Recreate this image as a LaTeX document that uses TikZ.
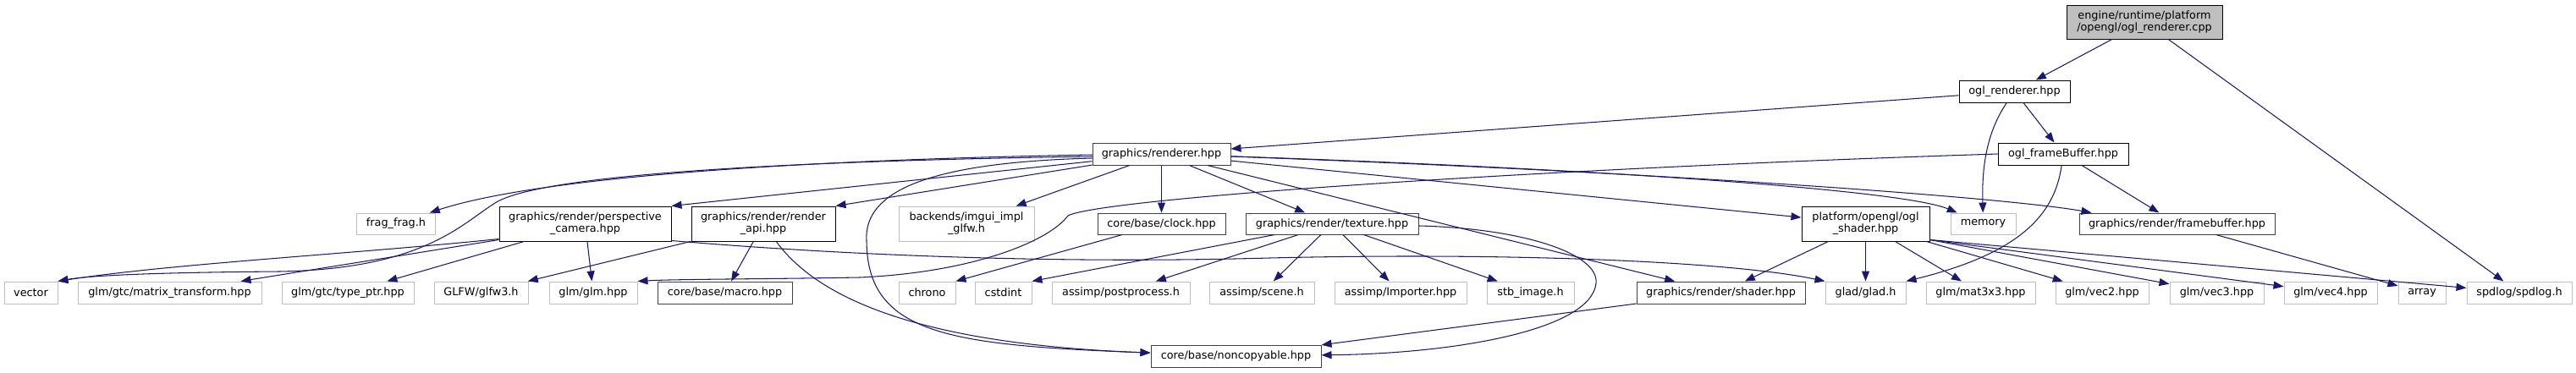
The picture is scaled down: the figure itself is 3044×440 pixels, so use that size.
\documentclass[tikz,border=0pt]{standalone}
\usepackage{fontspec}
\setmainfont{DejaVu Sans}
\usetikzlibrary{arrows.meta}
\definecolor{edgec}{HTML}{191970}
\definecolor{gseventyfive}{HTML}{BFBFBF}
\definecolor{gforty}{HTML}{404040}
\tikzset{
  box/.style={draw, line width=1pt, fill=white, inner sep=0pt, align=center,
    font=\fontsize{12.8}{14}\selectfont, text=black},
  docb/.style={box, draw=black},
  docg/.style={box, draw=gforty},
  ext/.style={box, draw=gseventyfive},
  edge/.style={draw=edgec, line width=1.05pt, -{Triangle[length=12pt,width=9pt]}},
}
\begin{document}
\begin{tikzpicture}[x=1pt,y=-1pt]
\useasboundingbox (0,0) rectangle (3044,440);
% top rows
\node[docb, fill=gseventyfive, minimum width=184pt, minimum height=40pt] (root) at (2534,26) {engine/runtime/platform\\/opengl/ogl\_renderer.cpp};
\node[docb, minimum width=131pt, minimum height=26pt] (oglr) at (2380.5,108) {ogl\_renderer.hpp};
\node[docg, minimum width=163pt, minimum height=26pt] (rend) at (1372.5,182) {graphics/renderer.hpp};
\node[docb, minimum width=154pt, minimum height=26pt] (oglfb) at (2438,182) {ogl\_frameBuffer.hpp};
% middle row
\node[ext, minimum width=93pt, minimum height=25pt] (frag) at (468,264.5) {frag\_frag.h};
\node[docb, minimum width=203pt, minimum height=41pt] (cam) at (691.5,264.5) {graphics/render/perspective\\\_camera.hpp};
\node[docb, minimum width=170pt, minimum height=41pt] (rapi) at (902,264.5) {graphics/render/render\\\_api.hpp};
\node[ext, minimum width=160pt, minimum height=41pt] (imgui) at (1142,264.5) {backends/imgui\_impl\\\_glfw.h};
\node[docg, minimum width=151pt, minimum height=25pt] (clock) at (1372.5,264.5) {core/base/clock.hpp};
\node[docg, minimum width=204pt, minimum height=25pt] (tex) at (1574,264.5) {graphics/render/texture.hpp};
\node[docb, minimum width=151pt, minimum height=41pt] (oglsh) at (2204.5,264.5) {platform/opengl/ogl\\\_shader.hpp};
\node[ext, minimum width=77pt, minimum height=25pt] (memory) at (2343.5,264.5) {memory};
\node[docg, minimum width=231pt, minimum height=25pt] (fbh) at (2572.5,264.5) {graphics/render/framebuffer.hpp};
% bottom row
\node[ext, minimum width=63pt, minimum height=26pt] (vector) at (36.5,346) {vector};
\node[ext, minimum width=217pt, minimum height=26pt] (mt) at (200.5,346) {glm/gtc/matrix\_transform.hpp};
\node[ext, minimum width=156pt, minimum height=26pt] (tp) at (411,346) {glm/gtc/type\_ptr.hpp};
\node[ext, minimum width=111pt, minimum height=26pt] (glfw) at (568.5,346) {GLFW/glfw3.h};
\node[ext, minimum width=104pt, minimum height=26pt] (glm) at (701,346) {glm/glm.hpp};
\node[docg, minimum width=159pt, minimum height=26pt] (macro) at (856.5,346) {core/base/macro.hpp};
\node[ext, minimum width=67pt, minimum height=26pt] (chrono) at (1095.5,346) {chrono};
\node[ext, minimum width=67pt, minimum height=26pt] (cstdint) at (1185.5,346) {cstdint};
\node[ext, minimum width=163pt, minimum height=26pt] (pp) at (1324.5,346) {assimp/postprocess.h};
\node[ext, minimum width=124pt, minimum height=26pt] (scene) at (1491,346) {assimp/scene.h};
\node[ext, minimum width=156pt, minimum height=26pt] (imp) at (1655,346) {assimp/Importer.hpp};
\node[ext, minimum width=103pt, minimum height=26pt] (stb) at (1808.5,346) {stb\_image.h};
\node[docg, minimum width=199pt, minimum height=26pt] (shader) at (2033.5,346) {graphics/render/shader.hpp};
\node[ext, minimum width=95pt, minimum height=26pt] (glad) at (2204.5,346) {glad/glad.h};
\node[ext, minimum width=129pt, minimum height=26pt] (mat) at (2340.5,346) {glm/mat3x3.hpp};
\node[ext, minimum width=110pt, minimum height=26pt] (vtwo) at (2484,346) {glm/vec2.hpp};
\node[ext, minimum width=111pt, minimum height=26pt] (vthree) at (2619.5,346) {glm/vec3.hpp};
\node[ext, minimum width=110pt, minimum height=26pt] (vfour) at (2754,346) {glm/vec4.hpp};
\node[ext, minimum width=56pt, minimum height=26pt] (arr) at (2862,346) {array};
\node[ext, minimum width=124pt, minimum height=26pt] (spd) at (2977,346) {spdlog/spdlog.h};
\node[docg, minimum width=201pt, minimum height=26pt] (nonc) at (1460.5,421) {core/base/noncopyable.hpp};

% edges from root and ogl files
\draw[edge] (root) -- (oglr);
\draw[edge] (root) -- (spd);
\draw[edge] (oglr) -- (rend);
\draw[edge] (oglr) .. controls (2345,160) and (2342,205) .. (memory);
\draw[edge] (oglr) -- (oglfb);
\draw[edge] (oglfb) -- (fbh);
\draw[edge] (oglfb) .. controls (2428,255) and (2385,300) .. (glad.north east);
\draw[edge] (oglfb.west) .. controls (1800,200) and (1300,235) .. (1262,255)
  .. controls (1240,285) and (1150,322) .. (1016,328)
  .. controls (900,330) and (800,330) .. (glm.north east);
% renderer.hpp
\draw[edge] ([yshift=-1pt]rend.west) .. controls (1000,188) and (650,205) .. (frag);
\draw[edge] ([yshift=-3pt]rend.west) .. controls (950,190) and (640,205) .. (585,240)
  .. controls (545,265) and (500,318) .. (330,321)
  .. controls (200,322) and (110,325) .. (vector.north east);
\draw[edge] (rend) -- (cam.north east);
\draw[edge] (rend) -- (rapi.north east);
\draw[edge] (rend) -- (imgui);
\draw[edge] (rend) -- (clock);
\draw[edge] (rend) -- (tex);
\draw[edge] ([yshift=-5pt]rend.west) .. controls (1100,192) and (1020,225) .. (1024,285)
  .. controls (1025,395) and (1120,408) .. (nonc);
\draw[edge] (rend) -- (shader);
\draw[edge] (rend) -- (oglsh);
\draw[edge] (rend) .. controls (1900,200) and (2250,225) .. (memory);
\draw[edge] (rend) .. controls (2000,205) and (2380,235) .. ([xshift=15pt]fbh.north west);
% perspective camera
\draw[edge] ([yshift=3pt]cam.south west) .. controls (420,300) and (200,312) .. (vector.north east);
\draw[edge] ([yshift=2pt]cam.south west) -- (mt);
\draw[edge] (cam) -- (tp);
\draw[edge] (cam) -- (glm);
\draw[edge] ([yshift=1pt]cam.south east) .. controls (1000,302) and (1250,312) .. (1500,305)
  .. controls (1800,298) and (2050,310) .. (glad.north west);
% render api
\draw[edge] (rapi) -- (glfw);
\draw[edge] (rapi) -- (macro);
\draw[edge] (rapi) .. controls (975,365) and (1120,408) .. (nonc);
% clock
\draw[edge] (clock) -- (chrono.north east);
% texture
\draw[edge] (tex) -- (cstdint.north east);
\draw[edge] (tex) -- (pp);
\draw[edge] (tex) -- (scene);
\draw[edge] (tex) -- (imp);
\draw[edge] (tex) -- (stb);
\draw[edge] (tex) .. controls (1800,270) and (1890,300) .. (1886,335)
  .. controls (1880,390) and (1720,418) .. (nonc);
% shader
\draw[edge] (shader) -- (nonc);
% ogl shader
\draw[edge] (oglsh) -- (shader);
\draw[edge] (oglsh) -- (glad);
\draw[edge] (oglsh) -- (mat);
\draw[edge] (oglsh) -- (vtwo);
\draw[edge] ([yshift=2pt]oglsh.south east) -- (vthree);
\draw[edge] ([yshift=2pt]oglsh.south east) -- (vfour);
\draw[edge] ([yshift=2pt]oglsh.south east) -- (spd);
% framebuffer
\draw[edge] (fbh) -- (arr);
\end{tikzpicture}
\end{document}
